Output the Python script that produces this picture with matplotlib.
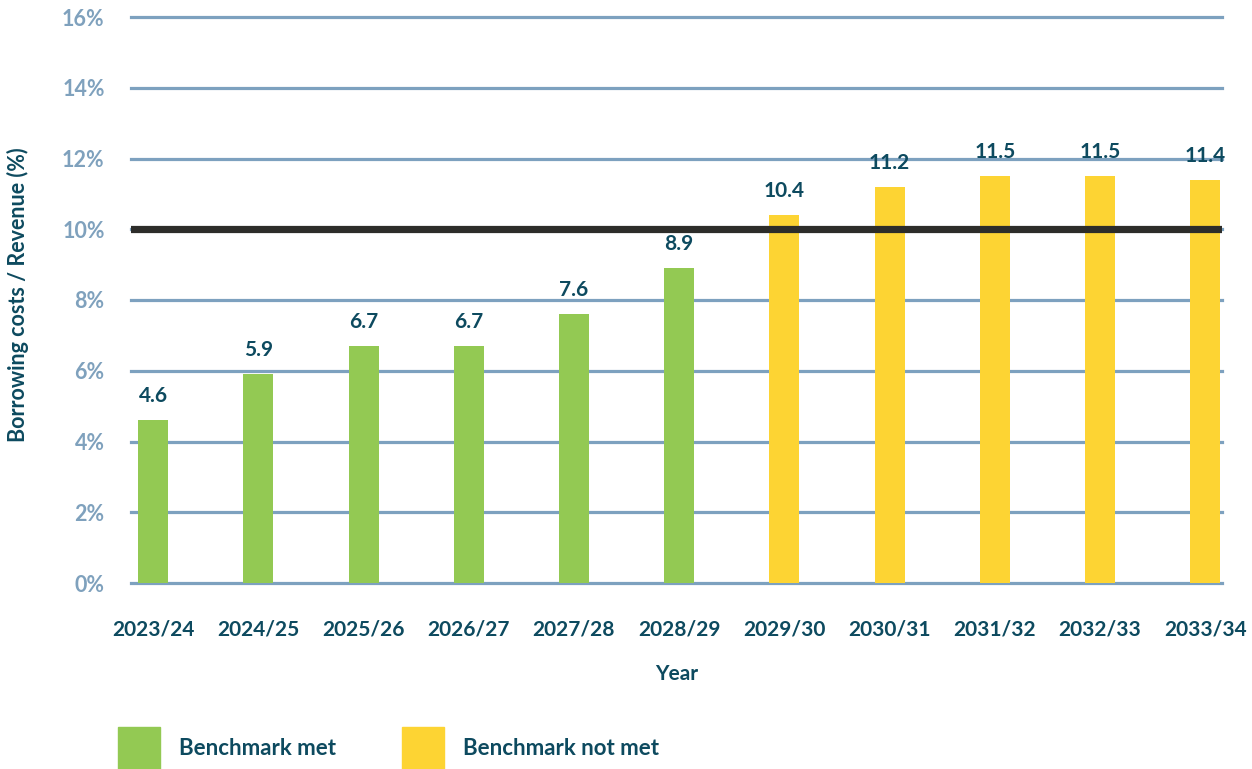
import numpy as np
import matplotlib.pyplot as plt
from matplotlib.patches import Patch

plt.rcParams['font.family'] = ['Lato', 'DejaVu Sans']

years = ['2023/24', '2024/25', '2025/26', '2026/27', '2027/28', '2028/29',
         '2029/30', '2030/31', '2031/32', '2032/33', '2033/34']
ratio = [4.6, 5.9, 6.7, 6.7, 7.6, 8.9, 10.4, 11.2, 11.5, 11.5, 11.4]
benchmark = 10
yticks = [0, 2, 4, 6, 8, 10, 12, 14, 16]

green = '#93C953'
yellow = '#FDD433'
navy = '#0D4A5F'
grid_blue = '#7DA1BF'

fig = plt.figure(figsize=(12.52, 7.69), dpi=100)
ax = fig.add_axes([131/1252, 1-583/769, (1222-131)/1252, (583-17)/769])

x = np.arange(len(years))
cols = [green if v <= benchmark else yellow for v in ratio]
ax.bar(x, ratio, width=0.285, color=cols, zorder=2)

for t in yticks:
    ax.axhline(t, color=grid_blue, lw=2.3, zorder=1, clip_on=False)
ax.axhline(benchmark, color='#2D2D2A', lw=5.2, zorder=3)

for xi, v in zip(x, ratio):
    ax.annotate(f'{v:.1f}', (xi, v), xytext=(0, 10), textcoords='offset points',
                ha='center', va='bottom', fontsize=15, fontweight='bold', color=navy)

ax.set_xlim(-0.21, 10.16)
ax.set_ylim(0, 16)
ax.set_yticks(yticks)
ax.set_yticklabels([f'{t}%' for t in yticks], fontsize=15.5, fontweight='bold', color='#7FA1BD')
ax.set_xticks(x)
ax.set_xticklabels(years, fontsize=15, fontweight='bold', color=navy)
ax.tick_params(axis='y', length=0, pad=19)
ax.tick_params(axis='x', length=0, pad=26)
for s in ax.spines.values():
    s.set_visible(False)

ax.set_xlabel('Year', fontsize=15, fontweight='bold', color=navy, labelpad=18)
fig.text(18/1252, 1-295/769, 'Borrowing costs / Revenue (%)', rotation=90,
         ha='center', va='center', fontsize=15.5, fontweight='bold', color=navy)

handles = [Patch(color=green, label='Benchmark met'),
           Patch(color=yellow, label='Benchmark not met')]
leg = fig.legend(handles=handles, loc='lower left', bbox_to_anchor=(118/1252, 0.0),
                 ncol=2, frameon=False, fontsize=16, handlelength=1.9, handleheight=2.5,
                 handletextpad=0.85, columnspacing=2.95, borderpad=0, borderaxespad=0)
for t in leg.get_texts():
    t.set_color(navy)
    t.set_fontweight('bold')

fig.savefig('out.png', dpi=100)
